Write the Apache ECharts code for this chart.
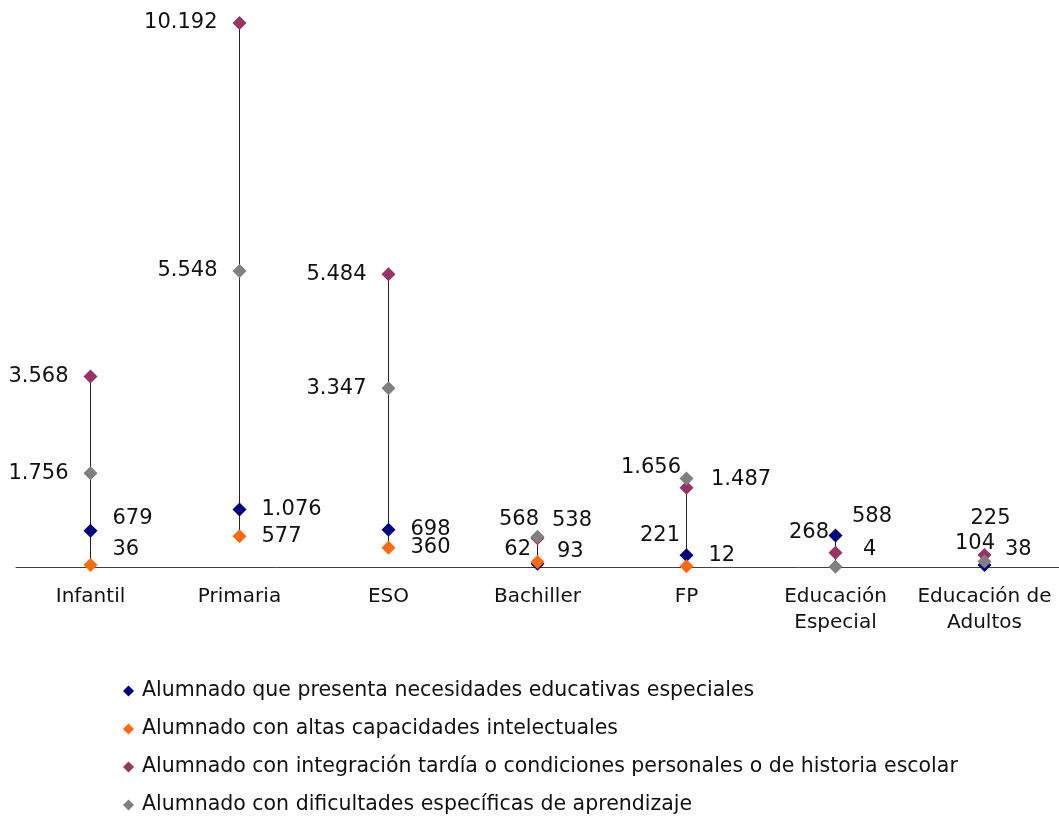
<!DOCTYPE html>
<html><head><meta charset="utf-8">
<script src="https://cdn.jsdelivr.net/npm/echarts@6/dist/echarts.min.js"></script>
<style>html,body{margin:0;padding:0;background:#fff}#c{width:1059px;height:817px}</style>
</head><body><div id="c"></div>
<script>
const categories = ['Infantil','Primaria','ESO','Bachiller','FP','Educación\nEspecial','Educación de\nAdultos'];
const seriesNames = [
  'Alumnado que presenta necesidades educativas especiales',
  'Alumnado con altas capacidades intelectuales',
  'Alumnado con integración tardía o condiciones personales o de historia escolar',
  'Alumnado con dificultades específicas de aprendizaje'
];
const nee          = [679, 1076, 698, 62, 221, 588, 38];
const altas        = [36, 577, 360, 93, 12, null, null];
const integracion  = [3568, 10192, 5484, 538, 1487, 268, 225];
const dificultades = [1756, 5548, 3347, 568, 1656, 4, 104];

const colors = ['#000080', '#FF6A0D', '#993366', '#808080'];
const defaultPos = ['right', 'right', 'left', 'left'];
// per-point label tweaks: [seriesIndex][categoryIndex] = {position, dx, dy}
const labelTweaks = {
  0: {0:{dy:-12}, 3:{position:'left',dx:15.5,dy:-14}, 4:{position:'left',dx:15.5,dy:-20}, 5:{dx:-5.5,dy:-19}, 6:{dx:-1.5,dy:-15}},
  1: {0:{dy:-16}, 3:{dx:-2.5,dy:-10}, 4:{dy:-11}},
  2: {3:{position:'right',dx:-7.5,dy:-18}, 4:{position:'right',dx:2.5,dy:-8}, 5:{dx:15.5,dy:-20}, 6:{position:'top',dx:6,dy:-3.5}},
  3: {3:{dx:23.5,dy:-17}, 4:{dx:16.5,dy:-11}, 5:{position:'right',dx:5.5,dy:-17}, 6:{dx:32.5,dy:-18}}
};
const allValues = [nee, altas, integracion, dificultades];
const fmt = v => String(v).replace(/\B(?=(\d{3})+(?!\d))/g, '.');
const FONT = 'DejaVu Sans';

const scatterSeries = allValues.map((arr, si) => ({
  name: seriesNames[si],
  type: 'scatter',
  symbol: 'diamond',
  symbolSize: 14,
  itemStyle: {color: colors[si], opacity: 1},
  emphasis: {disabled: true},
  z: 3 + si * 0.1,
  zlevel: 0,
  data: arr.map((v, ci) => {
    const t = (labelTweaks[si] || {})[ci] || {};
    return {
      value: v,
      label: {
        show: v !== null,
        position: t.position || defaultPos[si],
        distance: 15,
        offset: [t.dx || 0, t.dy || 0],
        formatter: p => fmt(p.value),
        color: '#111',
        opacity: 1,
        textBorderWidth: 0,
        fontFamily: FONT,
        fontSize: 21
      }
    };
  })
}));

const rangeData = categories.map((c, ci) => {
  const vals = allValues.map(a => a[ci]).filter(v => v !== null);
  return [ci, Math.min(...vals), Math.max(...vals)];
});

const chart = echarts.init(document.getElementById('c'), null, {renderer: 'canvas'});
chart.setOption({
  animation: false,
  backgroundColor: '#fff',
  grid: {left: 16, right: 0, top: 6.6, bottom: 250, containLabel: false},
  xAxis: {
    type: 'category',
    data: categories,
    boundaryGap: true,
    axisLine: {lineStyle: {color: '#404040', width: 1}},
    axisTick: {show: false},
    axisLabel: {color: '#111', fontFamily: FONT, fontSize: 20, margin: 17, lineHeight: 26, interval: 0}
  },
  yAxis: {type: 'value', min: 0, max: 10500, show: false, splitLine: {show: false}},
  legend: {
    orient: 'vertical',
    left: 123,
    top: 680,
    padding: 0,
    icon: 'diamond',
    itemWidth: 11,
    itemHeight: 11,
    itemGap: 16,
    selectedMode: false,
    textStyle: {color: '#111', fontFamily: FONT, fontSize: 20.5, lineHeight: 22, padding: [0,0,0,3]},
    data: seriesNames
  },
  series: [{
    type: 'custom',
    z: 1,
    silent: true,
    renderItem: (params, api) => {
      const p1 = api.coord([api.value(0), api.value(1)]);
      const p2 = api.coord([api.value(0), api.value(2)]);
      return {type: 'line', shape: {x1: p1[0], y1: p1[1], x2: p2[0], y2: p2[1]}, style: {stroke: '#222', lineWidth: 1}};
    },
    data: rangeData
  }].concat(scatterSeries)
});
</script></body></html>
